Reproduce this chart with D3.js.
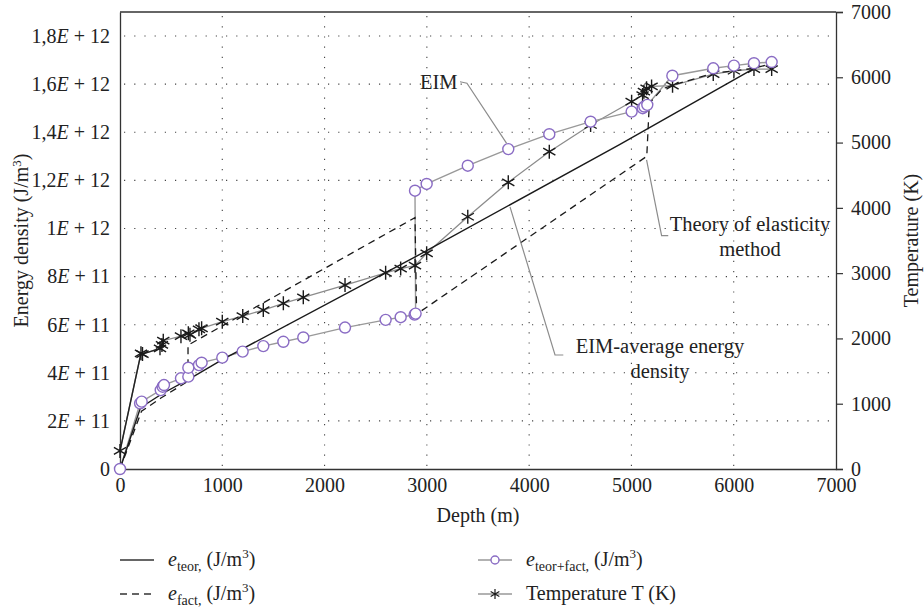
<!DOCTYPE html>
<html><head><meta charset="utf-8">
<script src="https://cdn.jsdelivr.net/npm/d3@7"></script>
<style>
body{margin:0;background:#fff;}
svg, svg text{font-family:"Liberation Serif",serif !important;fill:#222;}
</style></head>
<body><svg id="c" width="924" height="610"></svg>
<script>
// ---- data (energy in units of 1E11 J/m3) ----
const depthTeor = [0,200,420,680,1000,2900,4888,6200];
const eTeor     = [0,2.55,3.15,3.75,4.55,8.85,13.5,16.66];

const depthFact = [0,210,400,665,665,2884,2900,5150,5175,5300,5411,5800,6200,6370];
const eFact     = [0,2.4,2.95,3.65,5.15,10.45,6.44,13.0,15.2,15.8,15.97,16.45,16.66,16.85];

const depthTF = [0,196,212,398,417,430,596,668,668,772,798,1000,1199,1401,1597,1792,2200,2597,2744,2880,2890,2884,2998,3400,3796,4197,4601,5002,5110,5126,5155,5400,5800,6002,6198,6371];
const eTF     = [0,2.73,2.8,3.28,3.42,3.49,3.77,3.84,4.21,4.32,4.42,4.63,4.88,5.11,5.29,5.47,5.88,6.2,6.31,6.42,6.46,11.57,11.85,12.61,13.3,13.92,14.44,14.86,15.0,15.07,15.14,16.35,16.66,16.77,16.87,16.92];

const depthT = [0,205,220,391,410,423,596,668,684,772,798,1000,1200,1401,1597,1792,2200,2597,2744,2884,2998,3400,3796,4197,4601,5002,5109,5122,5148,5197,5402,5800,6002,6198,6371];
const tempT  = [276,1772,1760,1848,1900,1965,2035,2078,2055,2140,2155,2256,2343,2435,2538,2630,2818,3005,3070,3115,3304,3864,4391,4860,5269,5626,5728,5779,5831,5860,5871,6050,6100,6126,6126];

const xTicks = [0,1000,2000,3000,4000,5000,6000,7000];
const yTicks = [0,2e11,4e11,6e11,8e11,1e12,1.2e12,1.4e12,1.6e12,1.8e12];
const yTickLabels = ["0","2E + 11","4E + 11","6E + 11","8E + 11","1E + 12","1,2E + 12","1,4E + 12","1,6E + 12","1,8E + 12"];
const tTicks = [0,1000,2000,3000,4000,5000,6000,7000];

// ---- layout ----
const FONT='"Liberation Serif", serif';
const L=120,R=836,T=12,B=469;
const svg=d3.select("#c").attr("font-family",FONT);
const x=d3.scaleLinear().domain([0,7000]).range([L,R]);
const y=d3.scaleLinear().domain([0,1.9e12]).range([B,T]);
const yt=d3.scaleLinear().domain([0,7000]).range([B,T]);

// grid
const grid=svg.append("g").attr("stroke","#444").attr("stroke-width",1.1).attr("stroke-dasharray","1.2,9");
grid.selectAll("line.v").data(xTicks.slice(1,-1)).join("line")
  .attr("x1",d=>x(d)).attr("x2",d=>x(d)).attr("y1",T+4).attr("y2",B);
grid.selectAll("line.h").data(yTicks.slice(1)).join("line")
  .attr("y1",d=>y(d)).attr("y2",d=>y(d)).attr("x1",L+4).attr("x2",R);

// frame
svg.append("line").attr("x1",L).attr("x2",R).attr("y1",T).attr("y2",T).attr("stroke","#333").attr("stroke-width",1.3);

// axes
const fs=20;
const gx=svg.append("g").attr("transform",`translate(0,${B})`)
  .call(d3.axisBottom(x).tickValues(xTicks).tickSize(0).tickPadding(9).tickFormat(d3.format("d")));
const gy=svg.append("g").attr("transform",`translate(${L},0)`)
  .call(d3.axisLeft(y).tickValues(yTicks).tickSize(0).tickPadding(10).tickFormat((d,i)=>yTickLabels[i]));
gy.selectAll("text").each(function(d,i){
  const s=yTickLabels[i]; const t=d3.select(this); t.text("");
  if(s.indexOf("E")<0){t.text(s);return;}
  const p=s.split("E");
  t.append("tspan").text(p[0]);
  t.append("tspan").attr("font-style","italic").text("E");
  t.append("tspan").text(p[1]);
});
const gr=svg.append("g").attr("transform",`translate(${R},0)`)
  .call(d3.axisRight(yt).tickValues(tTicks).tickSize(7).tickPadding(8).tickFormat(d3.format("d")));
[gx,gy,gr].forEach(g=>{g.attr("font-family",FONT).attr("font-size",fs);
  g.selectAll("text").attr("font-size",fs).attr("fill","#222");
  g.select(".domain").attr("stroke","#333").attr("stroke-width",1.3);
  g.selectAll(".tick line").attr("stroke","#333").attr("stroke-width",1.2);});

// axis titles
svg.append("text").attr("transform",`translate(28,${(T+B)/2}) rotate(-90)`).attr("text-anchor","middle").attr("font-size",fs)
  .call(t=>{t.append("tspan").text("Energy density (J/m");t.append("tspan").attr("baseline-shift","super").attr("font-size",13).text("3");t.append("tspan").text(")");});
svg.append("text").attr("transform",`translate(918,${(T+B)/2}) rotate(-90)`).attr("text-anchor","middle").attr("font-size",fs).text("Temperature (K)");
svg.append("text").attr("x",(L+R)/2).attr("y",522).attr("text-anchor","middle").attr("font-size",fs).text("Depth (m)");

// lines
const zip=(a,b)=>a.map((v,i)=>[v,b[i]]);
const lineE=d3.line().x(d=>x(d[0])).y(d=>y(d[1]*1e11));
const lineT=d3.line().x(d=>x(d[0])).y(d=>yt(d[1]));
const teor=zip(depthTeor,eTeor), fact=zip(depthFact,eFact), tf=zip(depthTF,eTF), tmp=zip(depthT,tempT);

svg.append("path").attr("d",lineT(tmp)).attr("fill","none").attr("stroke","#8c8c8c").attr("stroke-width",1.3);
svg.append("path").attr("d",lineT(tmp.slice(0,6))).attr("fill","none").attr("stroke","#222").attr("stroke-width",1.4);
svg.append("path").attr("d",lineE(tf)).attr("fill","none").attr("stroke","#999").attr("stroke-width",1.4);
svg.append("path").attr("d",lineE(teor)).attr("fill","none").attr("stroke","#1a1a1a").attr("stroke-width",1.4);
svg.append("path").attr("d",lineE(fact)).attr("fill","none").attr("stroke","#1a1a1a").attr("stroke-width",1.3).attr("stroke-dasharray","7,5");

// markers
const star=r=>`M0,${-r}L0,${r}M${-r*0.87},${-r*0.5}L${r*0.87},${r*0.5}M${-r*0.87},${r*0.5}L${r*0.87},${-r*0.5}`;
svg.append("g").selectAll("path").data(tmp).join("path")
  .attr("transform",d=>`translate(${x(d[0])},${yt(d[1])})`).attr("d",star(7)).attr("stroke","#1a1a1a").attr("stroke-width",1.4).attr("fill","none");
svg.append("g").selectAll("circle").data(tf).join("circle")
  .attr("cx",d=>x(d[0])).attr("cy",d=>y(d[1]*1e11)).attr("r",5.5).attr("fill","#fff").attr("stroke","#8a6cc4").attr("stroke-width",1.4);

// annotations (leader points in data coords: depth, energy 1E11)
const ann=[
  {pts:[[3324,16.1],[3392,16.04],[3780,13.54]]},
  {pts:[[5148,12.85],[5295,9.7],[5360,9.7]]},
  {pts:[[3813,10.9],[4253,4.74],[4334,4.74]]}
];
ann.forEach(a=>svg.append("path").attr("d",lineE(a.pts)).attr("fill","none").attr("stroke","#8c8c8c").attr("stroke-width",1.2));
const afs=20.5;
svg.append("text").attr("x",x(3300)).attr("y",89).attr("text-anchor","end").attr("font-size",afs).text("EIM");
svg.append("text").attr("x",750).attr("y",231).attr("text-anchor","middle").attr("font-size",afs).text("Theory of elasticity");
svg.append("text").attr("x",750).attr("y",256).attr("text-anchor","middle").attr("font-size",afs).text("method");
svg.append("text").attr("x",660).attr("y",353).attr("text-anchor","middle").attr("font-size",afs).text("EIM-average energy");
svg.append("text").attr("x",660).attr("y",378).attr("text-anchor","middle").attr("font-size",afs).text("density");

// legend
const leg=[
  {x:120,y:560,label:"teor",type:"solid"},
  {x:120,y:594,label:"fact",type:"dash"},
  {x:478,y:560,label:"teor+fact",type:"circle"},
  {x:478,y:594,label:null,type:"star"}
];
leg.forEach(l=>{
  const g=svg.append("g").attr("transform",`translate(${l.x},${l.y})`);
  if(l.type==="solid") g.append("line").attr("x1",0).attr("x2",34).attr("stroke","#333").attr("stroke-width",1.6);
  if(l.type==="dash") g.append("line").attr("x1",0).attr("x2",36).attr("stroke","#333").attr("stroke-width",1.4).attr("stroke-dasharray","7,5");
  if(l.type==="circle"){g.append("line").attr("x1",0).attr("x2",34).attr("stroke","#999").attr("stroke-width",1.4);
    g.append("circle").attr("cx",17).attr("r",4).attr("fill","#fff").attr("stroke","#8a6cc4").attr("stroke-width",1.4);}
  if(l.type==="star"){g.append("line").attr("x1",0).attr("x2",34).attr("stroke","#999").attr("stroke-width",1.4);
    g.append("path").attr("transform","translate(17,0)").attr("d",star(5)).attr("stroke","#1a1a1a").attr("stroke-width",1.2);}
  const t=g.append("text").attr("x",48).attr("y",6).attr("font-size",20);
  if(l.label){
    t.append("tspan").attr("font-style","italic").text("e");
    t.append("tspan").attr("font-size",14).attr("dy",5).text(l.label);
    t.append("tspan").attr("font-size",14).text(",");
    t.append("tspan").attr("dy",-5).text(" (J/m");
    t.append("tspan").attr("font-size",13).attr("dy",-8).text("3");
    t.append("tspan").attr("dy",8).text(")");
  } else t.text("Temperature T (K)");
});
svg.selectAll("text").attr("font-family",FONT);
</script></body></html>
